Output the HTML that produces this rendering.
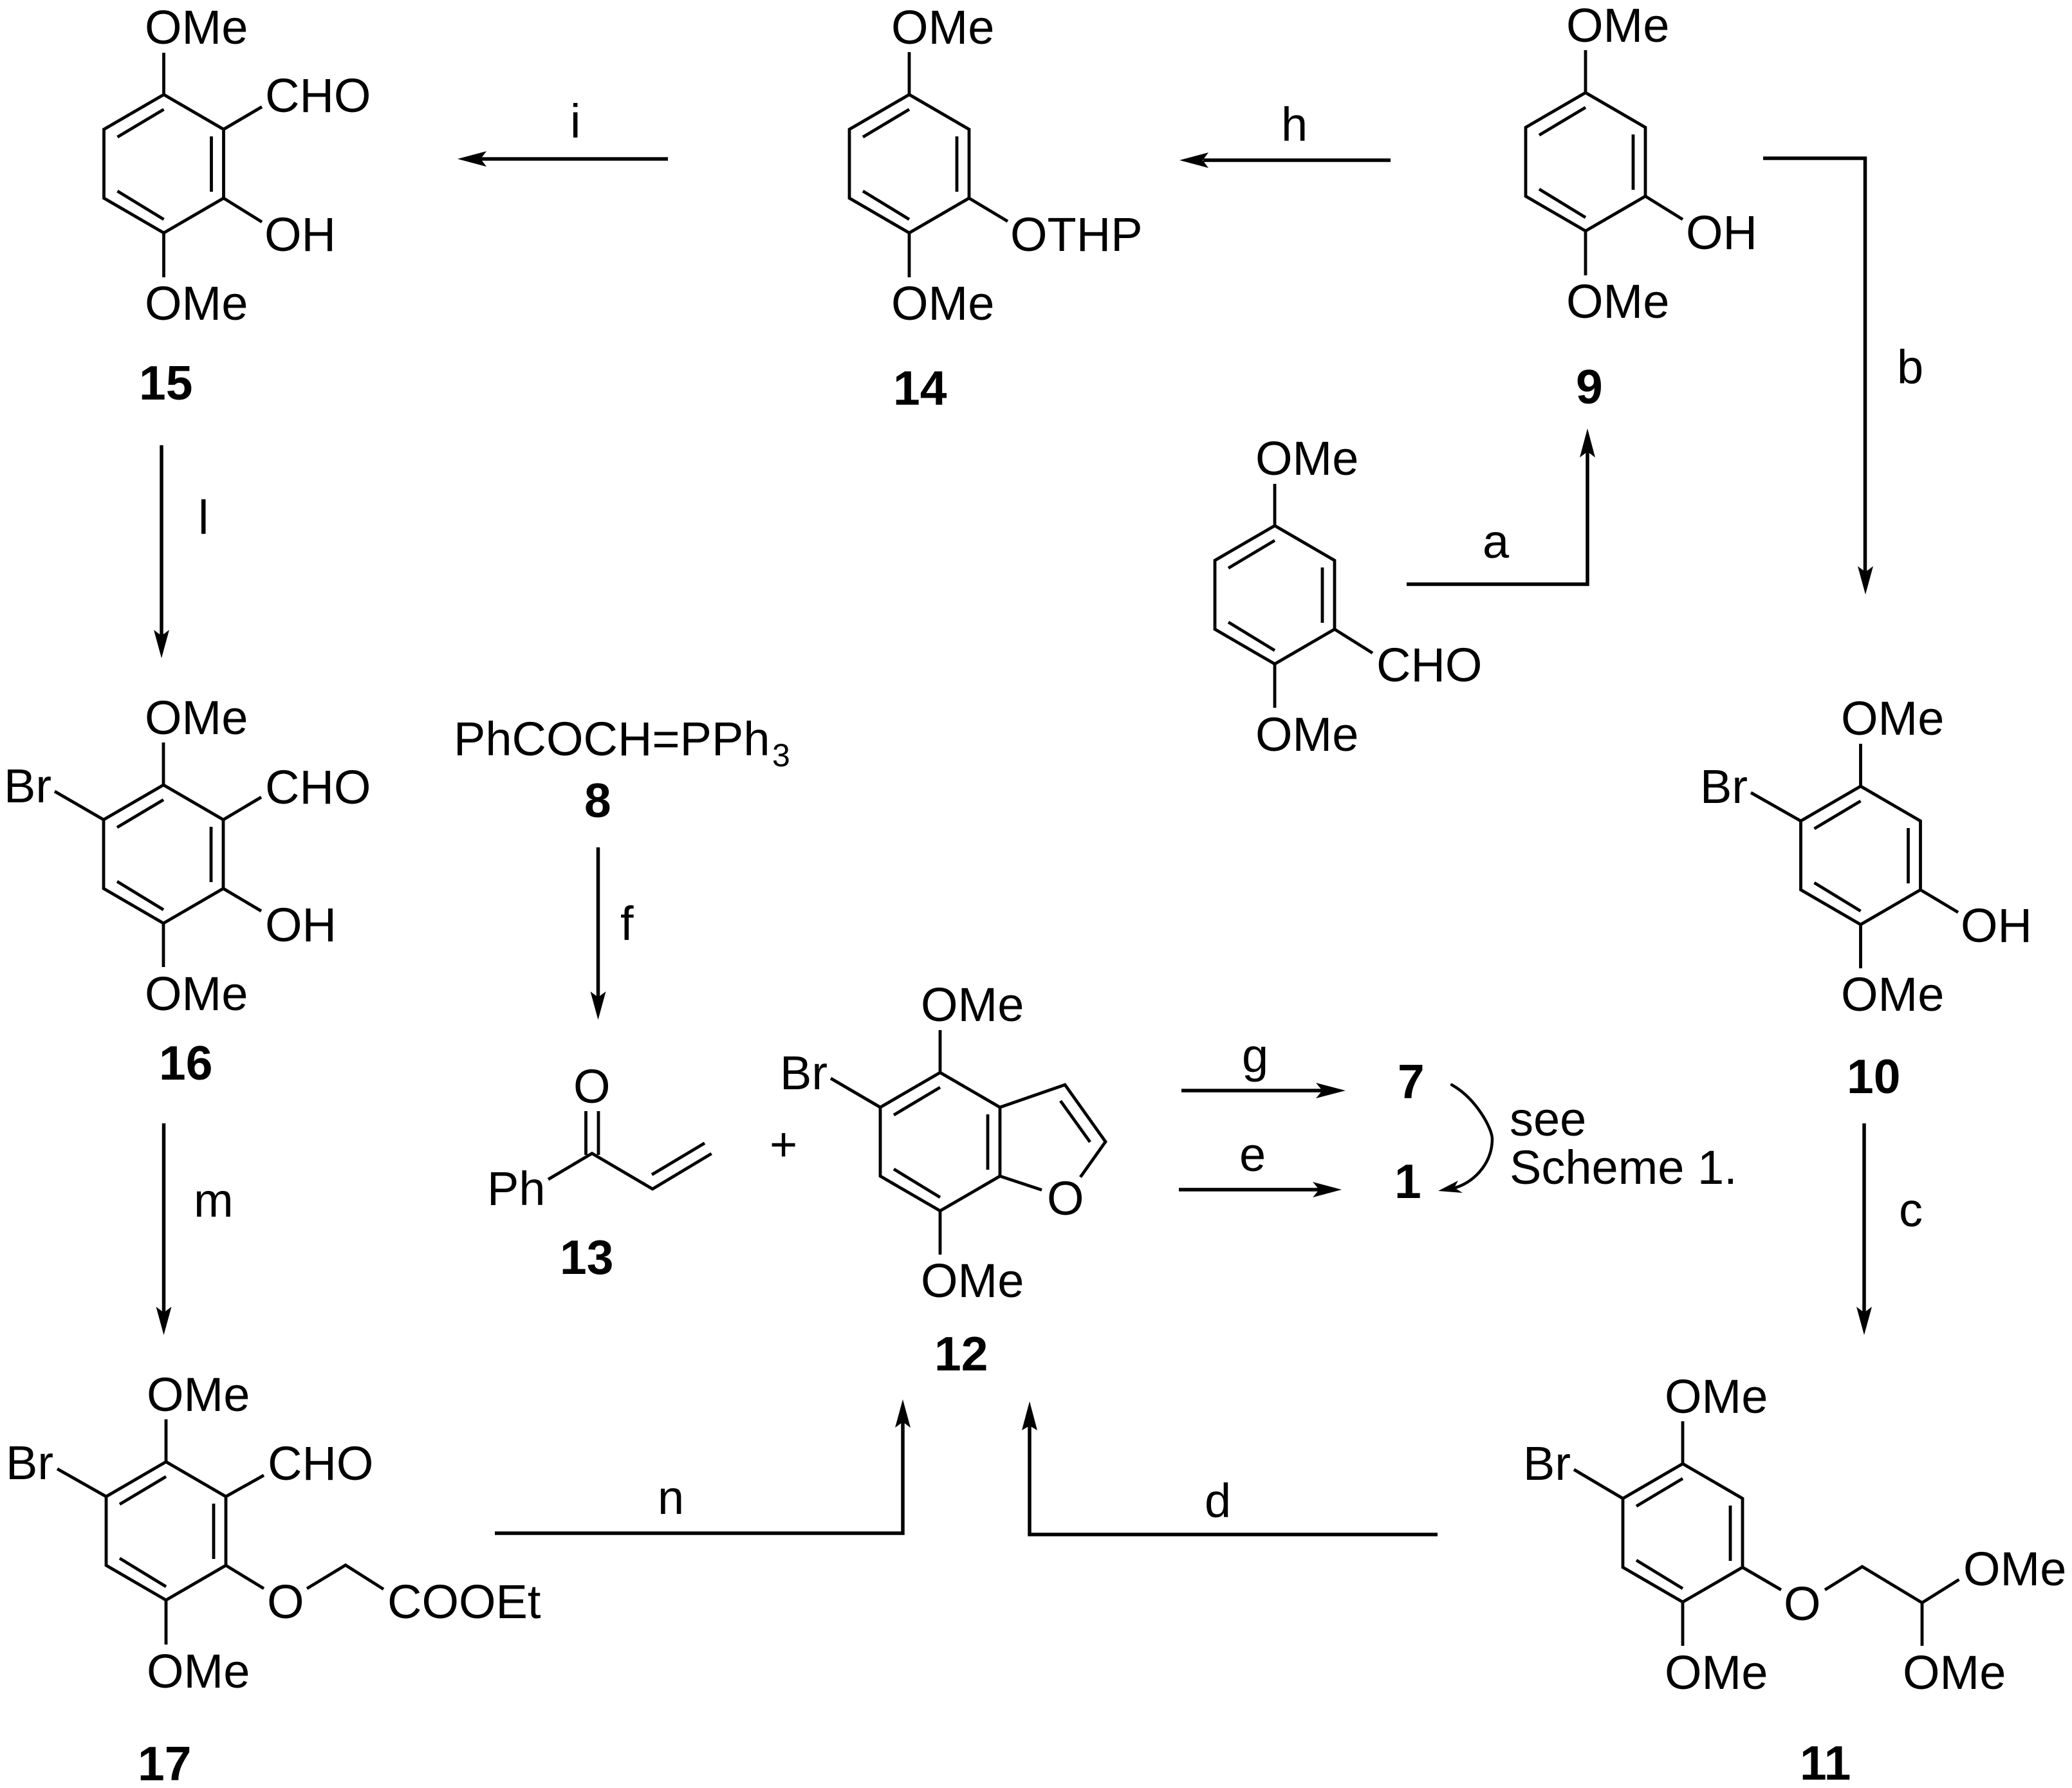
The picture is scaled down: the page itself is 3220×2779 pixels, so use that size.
<!DOCTYPE html>
<html lang="en">
<head>
<meta charset="utf-8">
<title>Synthesis scheme</title>
<style>
html,body{margin:0;padding:0;background:#fff}
svg{display:block}
text{font-family:"Liberation Sans",Arial,sans-serif;font-size:74px;fill:#000}
.b{font-weight:700;font-size:75px}
.s{font-size:50px}
.bond{fill:none;stroke:#000;stroke-width:4.8;stroke-linejoin:miter;stroke-linecap:butt}
.arr{fill:none;stroke:#000;stroke-width:5.5;stroke-linejoin:miter;stroke-linecap:butt}
.curve{fill:none;stroke:#000;stroke-width:4.5;stroke-linecap:round}
polygon.h{fill:#000;stroke:none}
</style>
</head>
<body>
<svg xmlns="http://www.w3.org/2000/svg" width="3220" height="2779" viewBox="0 0 3220 2779">
<rect width="3220" height="2779" fill="#fff"/>
<defs>
<g id="r">
<polygon class="bond" points="0,0 93,54 93,161 0,215 -93,161 -93,54"/>
<path class="bond" d="M-72 66L0 23M74 65V151M-72 150L0 194"/>
</g>
</defs>

<!-- 15 -->
<use href="#r" x="254.5" y="147"/>
<path class="bond" d="M254.5 147V82M254.5 362V431M347.5 201L407 166M347.5 308L407 345"/>
<text x="225" y="68">OMe</text>
<text x="412" y="174">CHO</text>
<text x="411" y="390">OH</text>
<text x="225" y="497">OMe</text>
<text class="b" x="216" y="621">15</text>
<path class="arr" d="M1038 247H745"/>
<polygon class="h" points="711,247 756,235 747,247 756,259"/>
<text x="886" y="214">i</text>

<!-- 14 -->
<use href="#r" x="1413" y="147"/>
<path class="bond" d="M1413 147V81M1413 362V431M1506 308L1566 344"/>
<text x="1385" y="68">OMe</text>
<text x="1570" y="390">OTHP</text>
<text x="1385" y="497">OMe</text>
<text class="b" x="1388" y="629">14</text>
<path class="arr" d="M2161 249H1870"/>
<polygon class="h" points="1833,249 1878,237 1869,249 1878,261"/>
<text x="1991" y="219">h</text>

<!-- 9 -->
<use href="#r" x="2464" y="144"/>
<path class="bond" d="M2464 144V78M2464 359V428M2557 305L2615 341"/>
<text x="2434" y="65">OMe</text>
<text x="2620" y="387">OH</text>
<text x="2434" y="494">OMe</text>
<text class="b" x="2449" y="627">9</text>
<path class="arr" d="M2740 246H2898.5V890"/>
<polygon class="h" points="2899,924 2887,880 2899,889 2911,880"/>
<text x="2948" y="596">b</text>

<!-- aldehyde -->
<use href="#r" x="1981" y="817"/>
<path class="bond" d="M1981 817V752M1981 1032V1100M2074 978L2133 1015"/>
<text x="1951" y="738">OMe</text>
<text x="2139" y="1059">CHO</text>
<text x="1951" y="1167">OMe</text>
<path class="arr" d="M2186 908H2467V700"/>
<polygon class="h" points="2467,666 2455,711 2467,702 2479,711"/>
<text x="2304" y="867">a</text>

<!-- 10 -->
<use href="#r" x="2891.5" y="1222"/>
<path class="bond" d="M2891.5 1222V1156M2891.5 1437V1505M2798.5 1276L2721 1232M2984.5 1383L3043 1418"/>
<text x="2861" y="1142">OMe</text>
<text x="2642" y="1248">Br</text>
<text x="3047" y="1464">OH</text>
<text x="2861" y="1571">OMe</text>
<text class="b" x="2870" y="1699">10</text>
<path class="arr" d="M2897 1746V2040"/>
<polygon class="h" points="2897,2075 2885,2031 2897,2040 2909,2031"/>
<text x="2951" y="1906">c</text>

<!-- 16 -->
<path class="arr" d="M251 692V990"/>
<polygon class="h" points="251,1023 239,979 251,988 263,979"/>
<text x="308" y="830">l</text>
<use href="#r" x="254" y="1220"/>
<path class="bond" d="M254 1220V1154M254 1435V1503M161 1274L85 1230M347 1274L406 1239M347 1381L406 1416"/>
<text x="225" y="1141">OMe</text>
<text x="6" y="1247">Br</text>
<text x="412" y="1249">CHO</text>
<text x="412" y="1463">OH</text>
<text x="225" y="1570">OMe</text>
<text class="b" x="247" y="1678">16</text>

<!-- 8 -->
<text x="705" y="1174">PhCOCH=PPh</text>
<text class="s" x="1200" y="1191">3</text>
<text class="b" x="908" y="1270">8</text>
<path class="arr" d="M929.5 1317V1550"/>
<polygon class="h" points="929.5,1585 917.5,1541 929.5,1550 941.5,1541"/>
<text x="964" y="1461">f</text>

<!-- 13 -->
<text x="891" y="1714">O</text>
<path class="bond" d="M910.5 1727V1795M930 1727V1795M852 1833L920 1792.7L1014 1848L1105.7 1793M1013 1825.7L1095 1776.7"/>
<text x="757" y="1873">Ph</text>
<text class="b" x="870" y="1980">13</text>
<text x="1196" y="1804">+</text>

<!-- 12 -->
<use href="#r" x="1461" y="1667"/>
<path class="bond" d="M1461 1667V1601M1461 1882V1950M1368 1721L1291 1676M1554 1721L1655 1686L1718 1774.5L1679 1829.5M1554 1828L1619 1849.5M1648 1711L1694 1775"/>
<text x="1431" y="1587">OMe</text>
<text x="1212" y="1693">Br</text>
<text x="1627" y="1888">O</text>
<text x="1431" y="2016">OMe</text>
<text class="b" x="1452" y="2130">12</text>

<!-- g e -->
<path class="arr" d="M1836 1695H2055"/>
<polygon class="h" points="2091,1695 2045,1683 2055,1695 2045,1707"/>
<text x="1930" y="1666">g</text>
<path class="arr" d="M1832 1849H2050"/>
<polygon class="h" points="2085,1849 2040,1837 2050,1849 2040,1861"/>
<text x="1926" y="1820">e</text>
<text class="b" x="2172" y="1707">7</text>
<text class="b" x="2167" y="1862">1</text>
<path class="curve" d="M2256 1686C2295 1708 2319 1755 2319 1770C2319 1805 2295 1835 2262 1846"/>
<polygon class="h" points="2235,1851 2266,1835 2260,1846 2273,1854"/>
<text x="2346" y="1765">see</text>
<text x="2346" y="1840">Scheme 1.</text>

<!-- 17 -->
<path class="arr" d="M254.5 1746V2040"/>
<polygon class="h" points="254.5,2075 242.5,2031 254.5,2040 266.5,2031"/>
<text x="301" y="1891">m</text>
<use href="#r" x="258" y="2272"/>
<path class="bond" d="M258 2272V2206M258 2487V2556M165 2326L89 2283M351 2326L410 2293M351 2433L410 2469M477 2469L537 2432.6L596 2470"/>
<text x="228" y="2193">OMe</text>
<text x="9" y="2299">Br</text>
<text x="416" y="2300">CHO</text>
<text x="415" y="2515">O</text>
<text x="602" y="2515">COOEt</text>
<text x="228" y="2623">OMe</text>
<text class="b" x="214" y="2767">17</text>

<!-- n -->
<path class="arr" d="M769 2383H1403V2210"/>
<polygon class="h" points="1403,2175 1391,2219 1403,2210 1415,2219"/>
<text x="1022" y="2353">n</text>

<!-- d -->
<path class="arr" d="M2234 2385H1600V2215"/>
<polygon class="h" points="1600,2178 1588,2223 1600,2216 1612,2223"/>
<text x="1872" y="2358">d</text>

<!-- 11 -->
<use href="#r" x="2615" y="2275"/>
<path class="bond" d="M2615 2275V2209M2615 2490V2558M2522 2329L2446 2284M2708 2436L2768 2471M2836 2471L2894 2435L2987 2491L3044.5 2455M2987 2491V2558"/>
<text x="2587" y="2196">OMe</text>
<text x="2367" y="2300">Br</text>
<text x="2772" y="2518">O</text>
<text x="3051" y="2464">OMe</text>
<text x="2587" y="2625">OMe</text>
<text x="2957" y="2625">OMe</text>
<text class="b" x="2797" y="2766">11</text>
</svg>
</body>
</html>
